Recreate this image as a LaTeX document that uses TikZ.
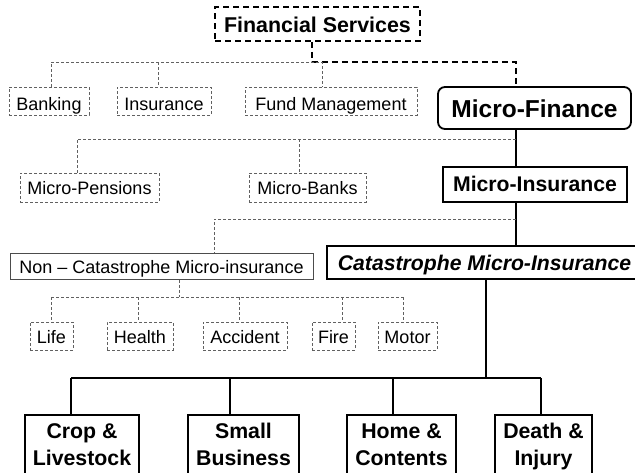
\documentclass[tikz,border=0pt]{standalone}
\usepackage{fontspec}
\setmainfont{Liberation Sans}
\begin{document}
\begin{tikzpicture}[x=1pt,y=-1pt,
  thindash/.style={draw=black!62, line width=0.8pt, dash pattern=on 3pt off 2pt},
  thickdash/.style={draw=black, line width=1.7pt, dash pattern=on 6pt off 4pt},
  solidline/.style={draw=black, line width=1.6pt},
  heavyline/.style={draw=black, line width=2.6pt},
  lightbox/.style={thindash, inner sep=0pt, font=\fontsize{18}{21}\selectfont},
  fsbox/.style={thickdash, inner sep=0pt, font=\fontsize{21.4}{25}\selectfont\bfseries},
  mfbox/.style={draw=black, line width=1.8pt, rounded corners=7pt, inner sep=0pt, font=\fontsize{24.5}{28}\selectfont\bfseries},
  boldbox/.style={draw=black, line width=1.8pt, inner sep=0pt, font=\fontsize{21.2}{25}\selectfont\bfseries},
  plainbox/.style={draw=black!70, line width=1pt, inner sep=0pt, font=\fontsize{18}{21}\selectfont},
  bottombox/.style={draw=black, line width=1.8pt, inner sep=0pt, anchor=north, align=center, font=\fontsize{21.3}{27}\selectfont\bfseries}
]
\useasboundingbox (0,0) rectangle (635,472);

% nodes
\node[fsbox, minimum width=205pt, text height=25.5pt, text depth=8.5pt] (fs) at (317.5,24) {Financial Services};

\node[lightbox, minimum width=80pt, text height=23pt, text depth=5pt] (bank) at (49,101) {Banking};
\node[lightbox, minimum width=94pt, text height=23pt, text depth=5pt] (ins) at (164,101) {Insurance};
\node[lightbox, minimum width=172pt, text height=23pt, text depth=5pt] (fund) at (331,101) {Fund Management};
\node[mfbox, minimum width=193pt, text height=30.3pt, text depth=11.7pt] (mf) at (534.5,108) {Micro-Finance};

\node[lightbox, minimum width=139pt, text height=21.5pt, text depth=7.5pt] (mp) at (89.5,187.5) {Micro-Pensions};
\node[lightbox, minimum width=117pt, text height=21.5pt, text depth=7.5pt] (mb) at (307.5,187.5) {Micro-Banks};
\node[boldbox, minimum width=184pt, text height=24.7pt, text depth=10.3pt] (mi) at (535,184.5) {Micro-Insurance};

\node[plainbox, minimum width=303pt, text height=20pt, text depth=6pt] (nc) at (161.5,266) {Non – Catastrophe Micro-insurance};
\node[boldbox, anchor=west, inner xsep=11pt, text height=24pt, text depth=9pt] (cat) at (326,262.5) {\itshape Catastrophe Micro-Insurance};

\node[lightbox, minimum width=43pt, text height=21.5pt, text depth=6.5pt] (life) at (51.5,336) {Life};
\node[lightbox, minimum width=66pt, text height=21.5pt, text depth=6.5pt] (health) at (140,336) {Health};
\node[lightbox, minimum width=84pt, text height=21.5pt, text depth=6.5pt] (acc) at (245,336) {Accident};
\node[lightbox, minimum width=43pt, text height=21.5pt, text depth=6.5pt] (fire) at (333.5,336) {Fire};
\node[lightbox, minimum width=59pt, text height=21.5pt, text depth=6.5pt] (motor) at (407.5,336) {Motor};

\node[bottombox, minimum width=114pt] (crop) at (82,414) {\rule{0pt}{24pt}Crop \&\\Livestock\rule[-40pt]{0pt}{40pt}};
\node[bottombox, minimum width=111pt] (small) at (243.5,414) {\rule{0pt}{24pt}Small\\Business\rule[-40pt]{0pt}{40pt}};
\node[bottombox, minimum width=109pt] (home) at (401.5,414) {\rule{0pt}{24pt}Home \&\\Contents\rule[-40pt]{0pt}{40pt}};
\node[bottombox, minimum width=97pt] (death) at (543.5,414) {\rule{0pt}{24pt}Death \&\\Injury\rule[-40pt]{0pt}{40pt}};

% junction coordinates
\coordinate (fsx) at (312,62);
\coordinate (mfx) at (516,62);
\coordinate (r1a) at (51,62);
\coordinate (r1b) at (158,62);
\coordinate (r1c) at (322,62);
\coordinate (r2a) at (77,139);
\coordinate (r2b) at (299,139);
\coordinate (r2c) at (516,139);
\coordinate (r3a) at (516,219);
\coordinate (r3b) at (214,219);
\coordinate (r4) at (179,297);
\coordinate (r4a) at (51,297);
\coordinate (r4b) at (138,297);
\coordinate (r4c) at (239,297);
\coordinate (r4d) at (342,297);
\coordinate (r4e) at (403,297);
\coordinate (r5) at (486,378);
\coordinate (r5a) at (71,378);
\coordinate (r5b) at (230,378);
\coordinate (r5c) at (393,378);
\coordinate (r5d) at (541,378);

% connectors
\draw[thickdash] (fs.south -| fsx) -- (fsx) -- (mfx) -- (mf.north -| mfx);
\draw[thindash] (bank.north -| r1a) -- (r1a) -- (r1c) -- (fund.north -| r1c);
\draw[thindash] (r1b) -- (ins.north -| r1b);

\draw[solidline] (mf.south -| mfx) -- (mi.north -| mfx);
\draw[thindash] (mp.north -| r2a) -- (r2a) -- (r2c);
\draw[thindash] (r2b) -- (mb.north -| r2b);

\draw[solidline] (mi.south -| mfx) -- (cat.north -| mfx);
\draw[thindash] (r3a) -- (r3b) -- (nc.north -| r3b);

\draw[thindash] (nc.south -| r4) -- (r4);
\draw[thindash] (r4a) -- (r4e);
\draw[thindash] (r4a) -- (life.north -| r4a);
\draw[thindash] (r4b) -- (health.north -| r4b);
\draw[thindash] (r4c) -- (acc.north -| r4c);
\draw[thindash] (r4d) -- (fire.north -| r4d);
\draw[thindash] (r4e) -- (motor.north -| r4e);

\draw[solidline] (cat.south -| r5) -- (r5);
\draw[solidline] (r5a) -- (r5d);
\draw[heavyline] (r5a) -- (crop.north -| r5a);
\draw[heavyline] (r5b) -- (small.north -| r5b);
\draw[heavyline] (r5c) -- (home.north -| r5c);
\draw[heavyline] (r5d) -- (death.north -| r5d);
\end{tikzpicture}
\end{document}
